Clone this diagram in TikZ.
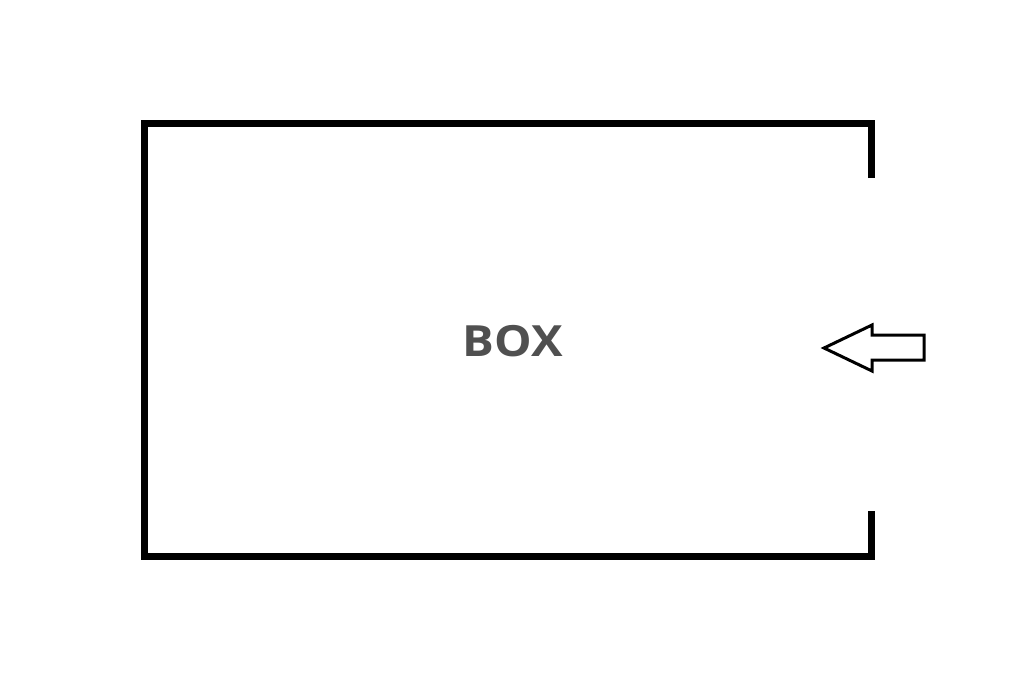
\documentclass[tikz,border=0pt]{standalone}
\usepackage{fontspec}
\newfontfamily\boxfont{Open Sans}
\definecolor{textgray}{HTML}{505050}
\tikzset{
  wall/.style={draw=black, line width=7pt, line cap=butt, line join=miter},
  arrowshape/.style={draw=black, line width=3pt, line join=miter, fill=white},
  label/.style={font=\boxfont\bfseries\fontsize{43}{50}\selectfont, text=textgray, inner sep=0pt, xscale=1.1}
}
\begin{document}
\begin{tikzpicture}[x=1pt,y=-1pt]
\useasboundingbox (0,0) rectangle (1024,683);
\coordinate (rt) at (871.5,178);
\coordinate (tl) at (144.5,123);
\coordinate (bl) at (144.5,556);
\coordinate (rb) at (871.5,511);
\draw[wall] (rt) -- (871.5,123) -- (tl) -- (bl) -- (871.5,556) -- (rb);
\node[label] (box) at (513,341) {BOX};
\draw[arrowshape] (824,348) -- (872,325) -- (872,335) -- (924,335) -- (924,360) -- (872,360) -- (872,371) -- cycle;
\end{tikzpicture}
\end{document}
